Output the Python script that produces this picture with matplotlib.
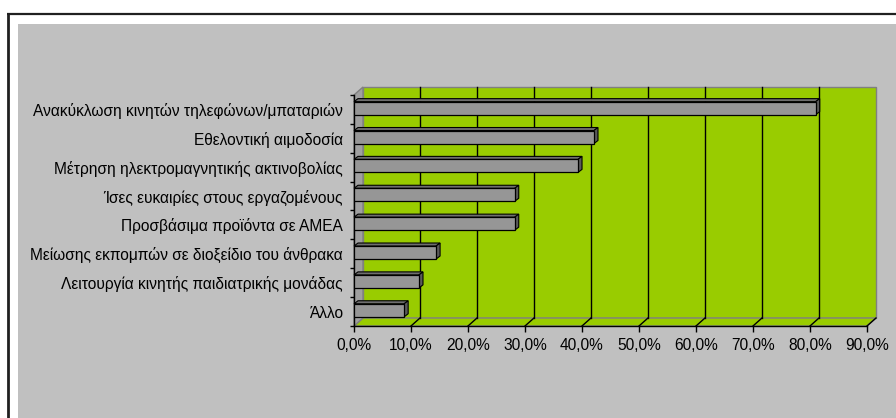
import matplotlib
matplotlib.use("Agg")
import matplotlib.pyplot as plt
from matplotlib.patches import Rectangle, Polygon
from matplotlib.lines import Line2D

categories = [
    "Ανακύκλωση κινητών τηλεφώνων/μπαταριών",
    "Εθελοντική αιμοδοσία",
    "Μέτρηση ηλεκτρομαγνητικής ακτινοβολίας",
    "Ίσες ευκαιρίες στους εργαζομένους",
    "Προσβάσιμα προϊόντα σε ΑΜΕΑ",
    "Μείωσης εκπομπών σε διοξείδιο του άνθρακα",
    "Λειτουργία κινητής παιδιατρικής μονάδας",
    "Άλλο",
]
values = [81.0, 42.1, 39.3, 28.2, 28.2, 14.4, 11.4, 8.8]
xticks = [0, 10, 20, 30, 40, 50, 60, 70, 80, 90]
xticklabels = ["0,0%", "10,0%", "20,0%", "30,0%", "40,0%", "50,0%",
               "60,0%", "70,0%", "80,0%", "90,0%"]

plt.rcParams['font.family'] = ['Liberation Sans', 'DejaVu Sans']
FS = 11.2

W, H = 896, 418
fig = plt.figure(figsize=(W / 100, H / 100), dpi=100)
fig.patch.set_facecolor("white")

# outer frame and grey chart area
fig.patches.append(Rectangle((18 / W, 0), 1, 1 - 24 / H, transform=fig.transFigure,
                             facecolor="#c0c0c0", edgecolor="none", zorder=-5))
fig.lines.append(Line2D([7.5 / W, 7.5 / W], [0, 1 - 13.5 / H], transform=fig.transFigure,
                        color="#202020", lw=2, zorder=-4, solid_capstyle="butt"))
fig.lines.append(Line2D([6.5 / W, 1], [1 - 13.5 / H, 1 - 13.5 / H], transform=fig.transFigure,
                        color="#202020", lw=1.6, zorder=-4, solid_capstyle="butt"))

x0, x1, yt, yb = 354, 867, 95, 326
ax = fig.add_axes([x0 / W, 1 - yb / H, (x1 - x0) / W, (yb - yt) / H])
ax.set_zorder(1)
ax.set_xlim(0, 90)
n = len(categories)
ax.set_ylim(n - 0.5, -0.5)
ax.patch.set_visible(False)
for s in ax.spines.values():
    s.set_visible(False)

# depth offsets in data units
px_x = 90 / (x1 - x0)
px_y = n / (yb - yt)
DX, DY = 9 * px_x, 8 * px_y
ymin, ymax = -0.5, n - 0.5

green = "#99cc00"
wall_edge = "#808080"
# back wall
ax.add_patch(Rectangle((DX, ymin - DY), 90, n, facecolor=green, edgecolor=wall_edge,
                       lw=1, clip_on=False, zorder=1))
# floor
ax.add_patch(Polygon([(0, ymax), (90, ymax), (90 + DX, ymax - DY), (DX, ymax - DY)],
                     closed=True, facecolor=green, edgecolor=wall_edge, lw=1,
                     clip_on=False, zorder=1))
# left side wall
ax.add_patch(Polygon([(0, ymin), (DX, ymin - DY), (DX, ymax - DY), (0, ymax)],
                     closed=True, facecolor="#a0a0a0", edgecolor=wall_edge, lw=1,
                     clip_on=False, zorder=1))
# gridlines on back wall and floor
for xt in xticks[1:-1]:
    ax.plot([xt + DX, xt + DX], [ymin - DY, ymax - DY], color="black", lw=1,
            clip_on=False, zorder=2)
for xt in xticks[1:]:
    ax.plot([xt, xt + DX], [ymax, ymax - DY], color="black", lw=1,
            clip_on=False, zorder=2)

# axes lines
ax.plot([0, 90], [ymax, ymax], color="black", lw=1, clip_on=False, zorder=3)
ax.plot([0, 0], [ymin, ymax], color="black", lw=1, clip_on=False, zorder=3)

# bars (3D look)
bdx, bdy = 4 * px_x, 3 * px_y
h = 0.45
for i, v in enumerate(values):
    top = i - 0.27
    bot = top + h
    ax.add_patch(Polygon([(0, top), (v, top), (v + bdx, top - bdy), (bdx, top - bdy)],
                         closed=True, facecolor="#6e6e6e", edgecolor="black", lw=0.8,
                         zorder=4, clip_on=False))
    ax.add_patch(Polygon([(v, top), (v + bdx, top - bdy), (v + bdx, bot - bdy), (v, bot)],
                         closed=True, facecolor="#5a5a5a", edgecolor="black", lw=0.8,
                         zorder=4, clip_on=False))
ax.barh([i - 0.27 + h / 2 for i in range(n)], values, height=h, left=0,
        color="#969696", edgecolor="black", lw=0.9, zorder=5)

# ticks
ax.set_xticks(xticks)
ax.set_xticklabels(xticklabels, fontsize=FS)
ax.tick_params(axis="x", direction="out", length=4, width=1, pad=5, colors="black")
ax.set_yticks([i + 0.5 for i in range(-1, n)])
ax.set_yticklabels([])
ax.set_yticks(list(range(n)), minor=True)
ax.set_yticklabels(categories, minor=True, fontsize=FS)
ax.tick_params(axis="y", which="major", direction="out", length=3, width=1)
ax.tick_params(axis="y", which="minor", length=0, pad=8)

fig.savefig("out.png", dpi=100)
